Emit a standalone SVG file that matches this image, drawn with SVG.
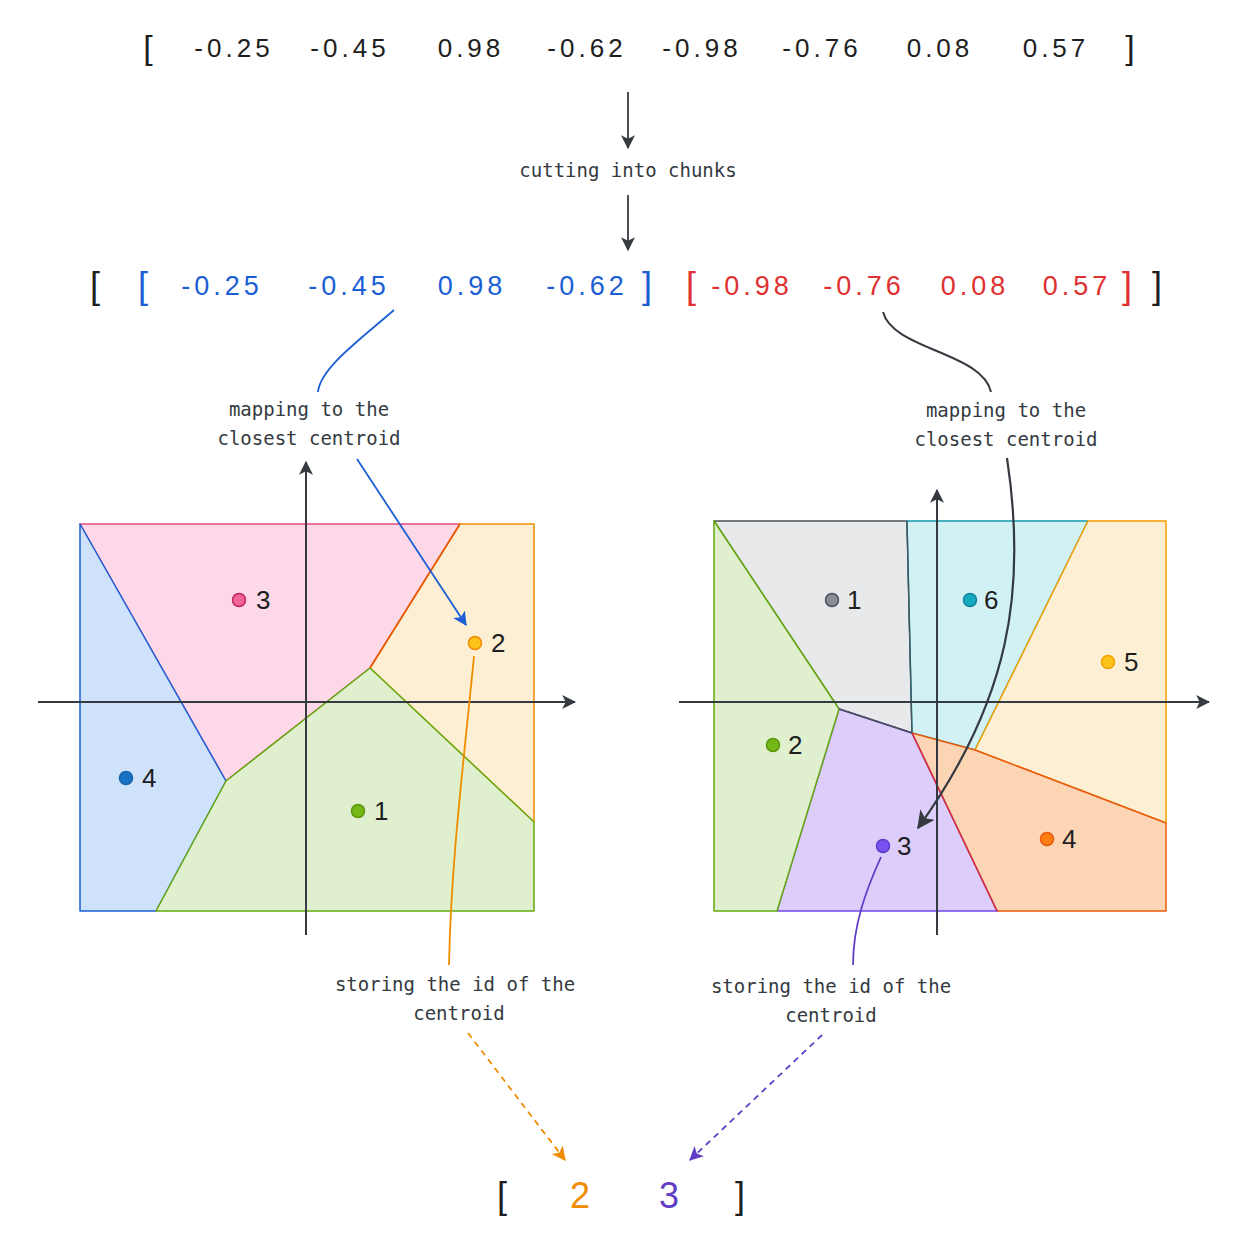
<svg xmlns="http://www.w3.org/2000/svg" width="1254" height="1254" viewBox="0 0 1254 1254">
<style>
.num{font-family:"Liberation Sans",Arial,sans-serif;text-anchor:middle}
.sp{letter-spacing:4px}
.lbl{font-family:"DejaVu Sans Mono","Liberation Mono",monospace;font-size:19px;fill:#343a40;text-anchor:middle}
.pl{font-family:"Liberation Sans",Arial,sans-serif;font-size:26px;fill:#1e1e1e}
.axis{stroke:#343a40;stroke-width:2;fill:none}
.reg{stroke-width:1.5;stroke-linejoin:round}
.pt{stroke-width:1.5}
</style>
<defs>
<marker id="ax" viewBox="0 0 12 12" refX="11" refY="6" markerWidth="14" markerHeight="14" orient="auto" markerUnits="userSpaceOnUse"><path d="M0,0 L12,6 L0,12 L3,6 z" fill="#343a40"/></marker>
<marker id="ab" viewBox="0 0 12 12" refX="11" refY="6" markerWidth="14" markerHeight="14" orient="auto" markerUnits="userSpaceOnUse"><path d="M0,0 L12,6 L0,12 L3,6 z" fill="#1c5fd4"/></marker>
<marker id="ak" viewBox="0 0 12 12" refX="11" refY="6" markerWidth="18" markerHeight="18" orient="auto" markerUnits="userSpaceOnUse"><path d="M0,0 L12,6 L0,12 L3,6 z" fill="#343a40"/></marker>
<marker id="ao" viewBox="0 0 12 12" refX="11" refY="6" markerWidth="14" markerHeight="14" orient="auto" markerUnits="userSpaceOnUse"><path d="M0,0 L12,6 L0,12 L3,6 z" fill="#f08c00"/></marker>
<marker id="ap" viewBox="0 0 12 12" refX="11" refY="6" markerWidth="14" markerHeight="14" orient="auto" markerUnits="userSpaceOnUse"><path d="M0,0 L12,6 L0,12 L3,6 z" fill="#5f3dc4"/></marker>
</defs>
<rect width="1254" height="1254" fill="#ffffff"/>

<g id="vector-full" class="num" font-size="26" fill="#1e1e1e">
<text x="148" y="59" font-size="34">[</text>
<text class="sp" x="234" y="57">-0.25</text>
<text class="sp" x="350" y="57">-0.45</text>
<text class="sp" x="471" y="57">0.98</text>
<text class="sp" x="587" y="57">-0.62</text>
<text class="sp" x="702" y="57">-0.98</text>
<text class="sp" x="822" y="57">-0.76</text>
<text class="sp" x="940" y="57">0.08</text>
<text class="sp" x="1056" y="57">0.57</text>
<text x="1130" y="59" font-size="34">]</text>
</g>

<g id="label-cutting"><text class="lbl" x="628" y="177">cutting into chunks</text></g>

<g id="vector-chunks" class="num" font-size="27">
<text x="95" y="298" font-size="36" fill="#1e1e1e">[</text>
<text x="143" y="298" font-size="36" fill="#1c5fd4">[</text>
<text class="sp" x="222" y="295" fill="#1c5fd4">-0.25</text>
<text class="sp" x="349" y="295" fill="#1c5fd4">-0.45</text>
<text class="sp" x="472" y="295" fill="#1c5fd4">0.98</text>
<text class="sp" x="587" y="295" fill="#1c5fd4">-0.62</text>
<text x="647" y="298" font-size="36" fill="#1c5fd4">]</text>
<text x="691" y="298" font-size="36" fill="#e03131">[</text>
<text class="sp" x="752" y="295" fill="#e03131">-0.98</text>
<text class="sp" x="864" y="295" fill="#e03131">-0.76</text>
<text class="sp" x="975" y="295" fill="#e03131">0.08</text>
<text class="sp" x="1077" y="295" fill="#e03131">0.57</text>
<text x="1127" y="298" font-size="36" fill="#e03131">]</text>
<text x="1157" y="298" font-size="36" fill="#1e1e1e">]</text>
</g>

<g id="label-map-left">
<text class="lbl" x="309" y="416">mapping to the</text>
<text class="lbl" x="309" y="445">closest centroid</text>
</g>
<g id="label-map-right">
<text class="lbl" x="1006" y="417">mapping to the</text>
<text class="lbl" x="1006" y="446">closest centroid</text>
</g>

<g id="plot-left">
<polygon class="reg" points="80,524 460,524 370,668 226,781" fill="#fdd8e8" stroke="#e64980"/>
<polygon class="reg" points="80,524 226,781 156,911 80,911" fill="#cfe2fb" stroke="#1c5fd4"/>
<polygon class="reg" points="460,524 534,524 534,822 370,668" fill="#fdefd3" stroke="#f08c00"/>
<polygon class="reg" points="226,781 370,668 534,822 534,911 156,911" fill="#e0f0cf" stroke="#66a80f"/>
<line x1="460" y1="524" x2="370" y2="668" stroke="#e8590c" stroke-width="1.5"/>
<line class="axis" x1="38" y1="702" x2="575" y2="702" marker-end="url(#ax)"/>
<line class="axis" x1="306" y1="935" x2="306" y2="462" marker-end="url(#ax)"/>
<g id="l-c3"><circle class="pt" cx="239" cy="600" r="6.5" fill="#f06595" stroke="#c2255c"/><text class="pl" x="256" y="609">3</text></g>
<g id="l-c2"><circle class="pt" cx="475" cy="643" r="6.5" fill="#fcc419" stroke="#f08c00"/><text class="pl" x="491" y="652">2</text></g>
<g id="l-c4"><circle class="pt" cx="126" cy="778" r="6.5" fill="#1971c2" stroke="#1864ab"/><text class="pl" x="142" y="787">4</text></g>
<g id="l-c1"><circle class="pt" cx="358" cy="811" r="6.5" fill="#74b816" stroke="#5c940d"/><text class="pl" x="374" y="820">1</text></g>
</g>

<g id="plot-right">
<polygon class="reg" points="714,521 907,521 912,733 839,709" fill="#e8e9eb" stroke="#495057"/>
<polygon class="reg" points="907,521 1088,521 975,750 912,733" fill="#d2f1f5" stroke="#1098ad"/>
<polygon class="reg" points="1088,521 1166,521 1166,823 975,750" fill="#fdefd3" stroke="#f59f00"/>
<polygon class="reg" points="912,733 975,750 1166,823 1166,911 997,911" fill="#fcd5b5" stroke="#e8590c"/>
<polygon class="reg" points="839,709 912,733 997,911 777,911" fill="#dccdfb" stroke="#7048e8"/>
<polygon class="reg" points="714,521 839,709 777,911 714,911" fill="#e0f0cf" stroke="#66a80f"/>
<line x1="912" y1="733" x2="997" y2="911" stroke="#e03131" stroke-width="1.5"/>
<line x1="839" y1="709" x2="912" y2="733" stroke="#495057" stroke-width="1.5"/>
<line x1="907" y1="521" x2="912" y2="733" stroke="#495057" stroke-width="1.3"/>
<line class="axis" x1="679" y1="702" x2="1209" y2="702" marker-end="url(#ax)"/>
<line class="axis" x1="937" y1="935" x2="937" y2="490" marker-end="url(#ax)"/>
<g id="r-c1"><circle class="pt" cx="832" cy="600" r="6.5" fill="#868e96" stroke="#495057"/><text class="pl" x="847" y="609">1</text></g>
<g id="r-c6"><circle class="pt" cx="970" cy="600" r="6.5" fill="#15aabf" stroke="#0c8599"/><text class="pl" x="984" y="609">6</text></g>
<g id="r-c5"><circle class="pt" cx="1108" cy="662" r="6.5" fill="#fcc419" stroke="#f59f00"/><text class="pl" x="1124" y="671">5</text></g>
<g id="r-c2"><circle class="pt" cx="773" cy="745" r="6.5" fill="#74b816" stroke="#5c940d"/><text class="pl" x="788" y="754">2</text></g>
<g id="r-c3"><circle class="pt" cx="883" cy="846" r="6.5" fill="#7950f2" stroke="#5f3dc4"/><text class="pl" x="897" y="855">3</text></g>
<g id="r-c4"><circle class="pt" cx="1047" cy="839" r="6.5" fill="#fd7e14" stroke="#e8590c"/><text class="pl" x="1062" y="848">4</text></g>
</g>

<g id="label-store-left">
<text class="lbl" x="455" y="991">storing the id of the</text>
<text class="lbl" x="459" y="1020">centroid</text>
</g>
<g id="label-store-right">
<text class="lbl" x="831" y="993">storing the id of the</text>
<text class="lbl" x="831" y="1022">centroid</text>
</g>

<g id="result" class="num" font-size="36">
<text x="502" y="1208" fill="#1e1e1e">[</text>
<text x="580" y="1208" fill="#f08c00">2</text>
<text x="669" y="1208" fill="#5f3dc4">3</text>
<text x="740" y="1208" fill="#1e1e1e">]</text>
</g>

<g id="connectors" fill="none" stroke-width="1.8">
<line x1="628" y1="92" x2="628" y2="148" stroke="#343a40" marker-end="url(#ax)"/>
<line x1="628" y1="195" x2="628" y2="250" stroke="#343a40" marker-end="url(#ax)"/>
<path d="M394 310 C362 338 320 368 318 392" stroke="#1c5fd4"/>
<path d="M883 312 C893 350 982 352 991 392" stroke="#343a40" stroke-width="2"/>
<line x1="357" y1="459" x2="466" y2="625" stroke="#1c5fd4" marker-end="url(#ab)"/>
<path d="M1007 458 C1027 590 1010 700 918 828" stroke="#343a40" stroke-width="2.2" marker-end="url(#ak)"/>
<path d="M474 656 C464 760 451 860 449 965" stroke="#f08c00"/>
<path d="M881 857 C866 890 853 925 853 965" stroke="#5f3dc4"/>
<line x1="468" y1="1033" x2="565" y2="1160" stroke="#f08c00" stroke-dasharray="6 5" marker-end="url(#ao)"/>
<line x1="822" y1="1035" x2="690" y2="1160" stroke="#5f3dc4" stroke-dasharray="6 5" marker-end="url(#ap)"/>
</g>
</svg>
